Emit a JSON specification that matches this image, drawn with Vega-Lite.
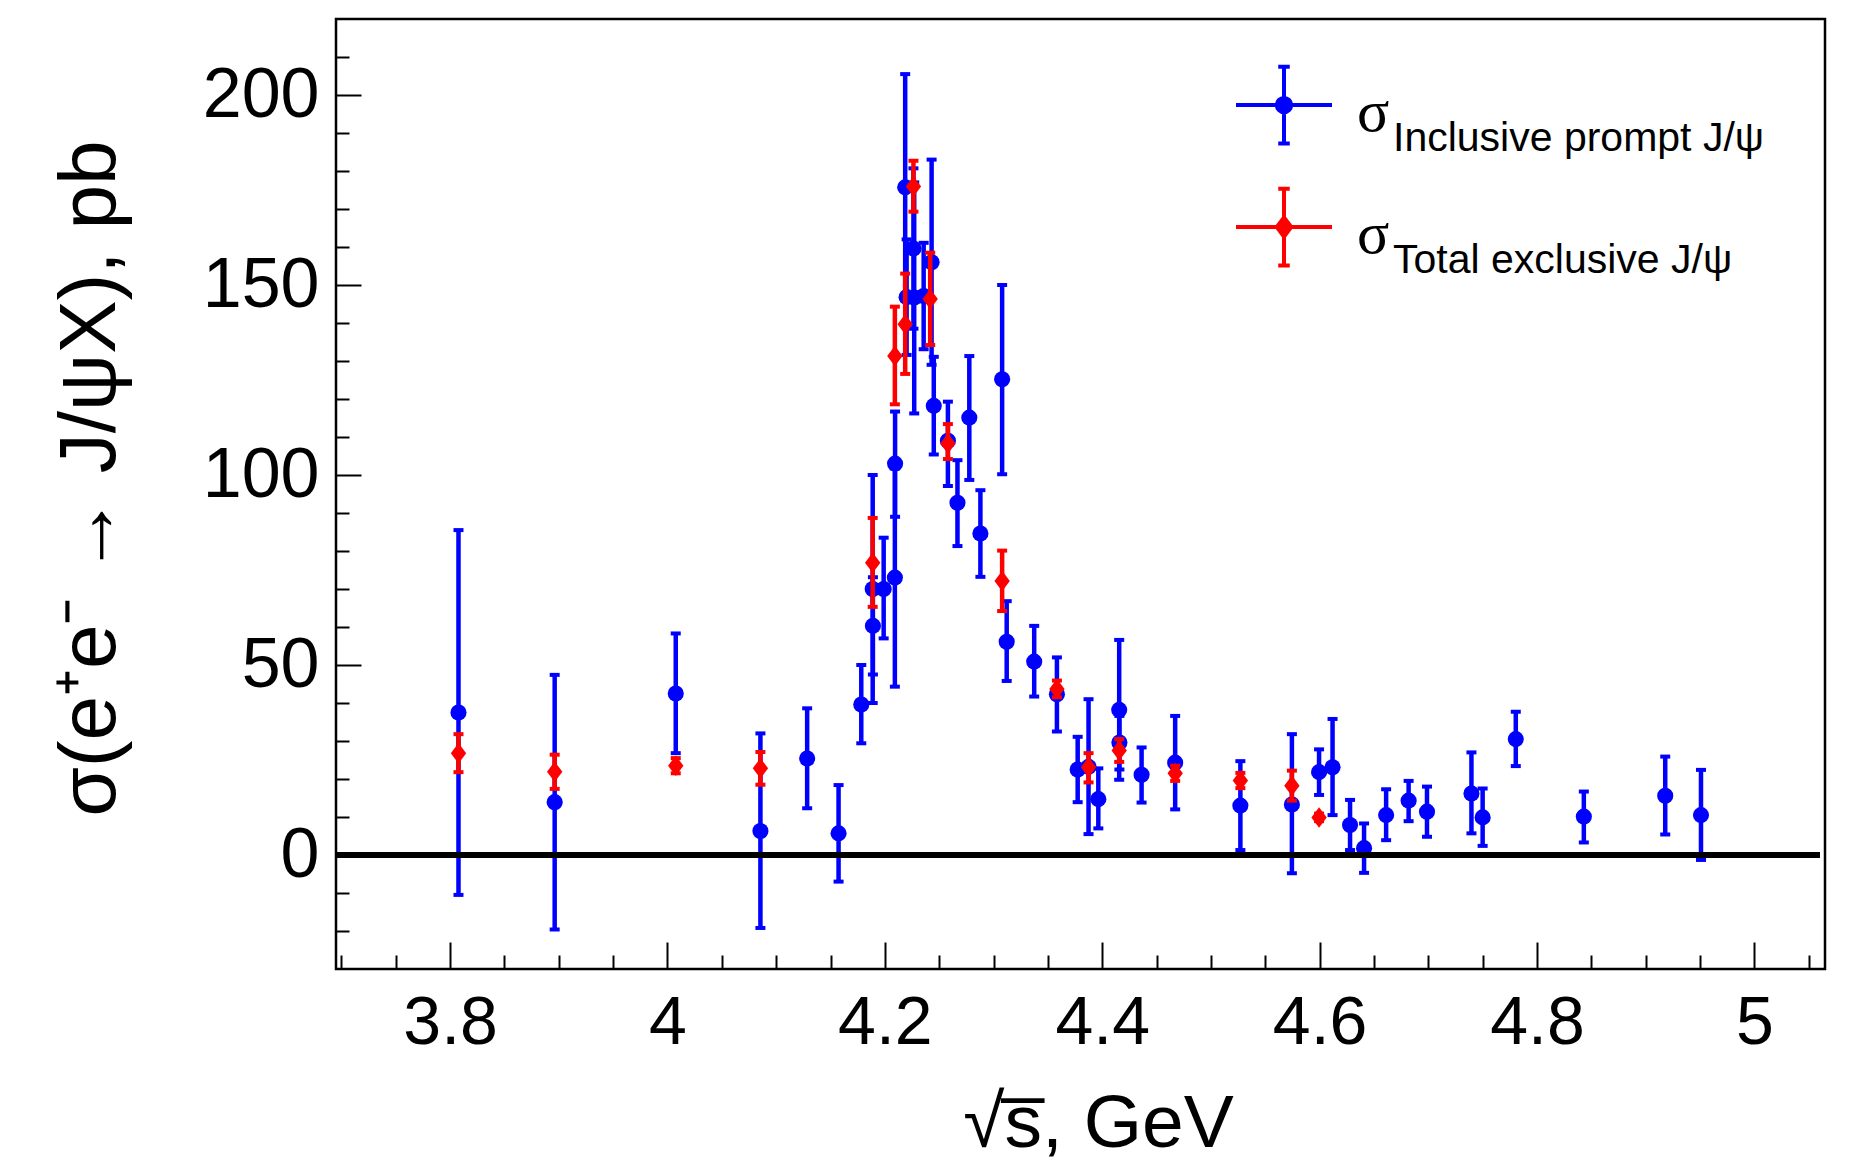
{
  "$schema": "https://vega.github.io/schema/vega-lite/v6.json",
  "width": 1489,
  "height": 950,
  "autosize": {"type": "none"},
  "padding": {"left": 336, "top": 19, "right": 39, "bottom": 193},
  "background": "white",
  "config": {
    "view": {"stroke": "black", "strokeWidth": 2.5},
    "font": "Liberation Sans"
  },
  "data": {
    "values": [
      {"x": 3.8077, "y": 37.5, "lo": -10.5, "hi": 85.5, "series": "Inclusive", "label": "Inclusive prompt J/ψ"},
      {"x": 3.8962, "y": 13.9, "lo": -19.6, "hi": 47.4, "series": "Inclusive", "label": "Inclusive prompt J/ψ"},
      {"x": 4.0076, "y": 42.5, "lo": 26.8, "hi": 58.3, "series": "Inclusive", "label": "Inclusive prompt J/ψ"},
      {"x": 4.0855, "y": 6.3, "lo": -19.2, "hi": 32.0, "series": "Inclusive", "label": "Inclusive prompt J/ψ"},
      {"x": 4.1285, "y": 25.4, "lo": 12.3, "hi": 38.6, "series": "Inclusive", "label": "Inclusive prompt J/ψ"},
      {"x": 4.1574, "y": 5.7, "lo": -7.0, "hi": 18.4, "series": "Inclusive", "label": "Inclusive prompt J/ψ"},
      {"x": 4.1783, "y": 39.6, "lo": 29.4, "hi": 50.0, "series": "Inclusive", "label": "Inclusive prompt J/ψ"},
      {"x": 4.1888, "y": 70.0, "lo": 40.0, "hi": 100.0, "series": "Inclusive", "label": "Inclusive prompt J/ψ"},
      {"x": 4.1890, "y": 60.3, "lo": 47.5, "hi": 73.1, "series": "Inclusive", "label": "Inclusive prompt J/ψ"},
      {"x": 4.1989, "y": 70.0, "lo": 57.0, "hi": 83.5, "series": "Inclusive", "label": "Inclusive prompt J/ψ"},
      {"x": 4.2092, "y": 73.0, "lo": 44.3, "hi": 101.7, "series": "Inclusive", "label": "Inclusive prompt J/ψ"},
      {"x": 4.2094, "y": 103.0, "lo": 89.0, "hi": 116.7, "series": "Inclusive", "label": "Inclusive prompt J/ψ"},
      {"x": 4.2187, "y": 175.7, "lo": 146.0, "hi": 205.5, "series": "Inclusive", "label": "Inclusive prompt J/ψ"},
      {"x": 4.2200, "y": 146.8, "lo": 131.6, "hi": 162.0, "series": "Inclusive", "label": "Inclusive prompt J/ψ"},
      {"x": 4.2263, "y": 159.6, "lo": 138.5, "hi": 180.7, "series": "Inclusive", "label": "Inclusive prompt J/ψ"},
      {"x": 4.2270, "y": 146.7, "lo": 116.2, "hi": 177.0, "series": "Inclusive", "label": "Inclusive prompt J/ψ"},
      {"x": 4.2357, "y": 147.1, "lo": 133.1, "hi": 161.1, "series": "Inclusive", "label": "Inclusive prompt J/ψ"},
      {"x": 4.2430, "y": 156.0, "lo": 129.0, "hi": 183.0, "series": "Inclusive", "label": "Inclusive prompt J/ψ"},
      {"x": 4.2450, "y": 118.2, "lo": 105.4, "hi": 131.1, "series": "Inclusive", "label": "Inclusive prompt J/ψ"},
      {"x": 4.2580, "y": 109.0, "lo": 97.1, "hi": 119.3, "series": "Inclusive", "label": "Inclusive prompt J/ψ"},
      {"x": 4.2668, "y": 92.7, "lo": 81.3, "hi": 103.9, "series": "Inclusive", "label": "Inclusive prompt J/ψ"},
      {"x": 4.2777, "y": 115.1, "lo": 98.7, "hi": 131.3, "series": "Inclusive", "label": "Inclusive prompt J/ψ"},
      {"x": 4.2879, "y": 84.6, "lo": 73.2, "hi": 96.0, "series": "Inclusive", "label": "Inclusive prompt J/ψ"},
      {"x": 4.3079, "y": 125.2, "lo": 100.2, "hi": 150.0, "series": "Inclusive", "label": "Inclusive prompt J/ψ"},
      {"x": 4.3121, "y": 56.1, "lo": 45.8, "hi": 66.8, "series": "Inclusive", "label": "Inclusive prompt J/ψ"},
      {"x": 4.3374, "y": 50.9, "lo": 41.7, "hi": 60.3, "series": "Inclusive", "label": "Inclusive prompt J/ψ"},
      {"x": 4.3583, "y": 42.3, "lo": 32.5, "hi": 52.0, "series": "Inclusive", "label": "Inclusive prompt J/ψ"},
      {"x": 4.3774, "y": 22.5, "lo": 13.9, "hi": 31.1, "series": "Inclusive", "label": "Inclusive prompt J/ψ"},
      {"x": 4.3874, "y": 23.2, "lo": 5.5, "hi": 41.0, "series": "Inclusive", "label": "Inclusive prompt J/ψ"},
      {"x": 4.3964, "y": 14.7, "lo": 7.0, "hi": 22.8, "series": "Inclusive", "label": "Inclusive prompt J/ψ"},
      {"x": 4.4156, "y": 38.2, "lo": 19.8, "hi": 56.6, "series": "Inclusive", "label": "Inclusive prompt J/ψ"},
      {"x": 4.4158, "y": 29.6, "lo": 22.5, "hi": 36.6, "series": "Inclusive", "label": "Inclusive prompt J/ψ"},
      {"x": 4.4362, "y": 21.1, "lo": 13.8, "hi": 28.3, "series": "Inclusive", "label": "Inclusive prompt J/ψ"},
      {"x": 4.4671, "y": 24.3, "lo": 12.0, "hi": 36.6, "series": "Inclusive", "label": "Inclusive prompt J/ψ"},
      {"x": 4.5271, "y": 13.0, "lo": 1.3, "hi": 24.7, "series": "Inclusive", "label": "Inclusive prompt J/ψ"},
      {"x": 4.5745, "y": 13.3, "lo": -4.8, "hi": 31.8, "series": "Inclusive", "label": "Inclusive prompt J/ψ"},
      {"x": 4.5995, "y": 21.8, "lo": 15.8, "hi": 27.8, "series": "Inclusive", "label": "Inclusive prompt J/ψ"},
      {"x": 4.6119, "y": 23.1, "lo": 10.5, "hi": 35.8, "series": "Inclusive", "label": "Inclusive prompt J/ψ"},
      {"x": 4.6280, "y": 7.9, "lo": 1.3, "hi": 14.5, "series": "Inclusive", "label": "Inclusive prompt J/ψ"},
      {"x": 4.6409, "y": 1.8, "lo": -4.7, "hi": 8.3, "series": "Inclusive", "label": "Inclusive prompt J/ψ"},
      {"x": 4.6612, "y": 10.5, "lo": 3.9, "hi": 17.3, "series": "Inclusive", "label": "Inclusive prompt J/ψ"},
      {"x": 4.6819, "y": 14.3, "lo": 8.9, "hi": 19.5, "series": "Inclusive", "label": "Inclusive prompt J/ψ"},
      {"x": 4.6988, "y": 11.4, "lo": 4.8, "hi": 18.0, "series": "Inclusive", "label": "Inclusive prompt J/ψ"},
      {"x": 4.7397, "y": 16.2, "lo": 5.7, "hi": 27.0, "series": "Inclusive", "label": "Inclusive prompt J/ψ"},
      {"x": 4.7500, "y": 9.9, "lo": 2.4, "hi": 17.5, "series": "Inclusive", "label": "Inclusive prompt J/ψ"},
      {"x": 4.7805, "y": 30.5, "lo": 23.4, "hi": 37.7, "series": "Inclusive", "label": "Inclusive prompt J/ψ"},
      {"x": 4.8431, "y": 10.1, "lo": 3.3, "hi": 16.7, "series": "Inclusive", "label": "Inclusive prompt J/ψ"},
      {"x": 4.9180, "y": 15.6, "lo": 5.4, "hi": 25.9, "series": "Inclusive", "label": "Inclusive prompt J/ψ"},
      {"x": 4.9509, "y": 10.5, "lo": -1.3, "hi": 22.4, "series": "Inclusive", "label": "Inclusive prompt J/ψ"},
      {"x": 3.8077, "y": 26.8, "lo": 21.8, "hi": 31.8, "series": "Total", "label": "Total exclusive J/ψ"},
      {"x": 3.8962, "y": 21.9, "lo": 17.4, "hi": 26.4, "series": "Total", "label": "Total exclusive J/ψ"},
      {"x": 4.0076, "y": 23.5, "lo": 21.5, "hi": 25.5, "series": "Total", "label": "Total exclusive J/ψ"},
      {"x": 4.0855, "y": 22.8, "lo": 18.5, "hi": 27.1, "series": "Total", "label": "Total exclusive J/ψ"},
      {"x": 4.1888, "y": 76.9, "lo": 65.3, "hi": 88.7, "series": "Total", "label": "Total exclusive J/ψ"},
      {"x": 4.2092, "y": 131.3, "lo": 118.6, "hi": 144.3, "series": "Total", "label": "Total exclusive J/ψ"},
      {"x": 4.2187, "y": 139.7, "lo": 126.6, "hi": 153.0, "series": "Total", "label": "Total exclusive J/ψ"},
      {"x": 4.2263, "y": 175.9, "lo": 169.3, "hi": 182.7, "series": "Total", "label": "Total exclusive J/ψ"},
      {"x": 4.2417, "y": 146.3, "lo": 134.2, "hi": 158.5, "series": "Total", "label": "Total exclusive J/ψ"},
      {"x": 4.2580, "y": 108.3, "lo": 104.2, "hi": 113.4, "series": "Total", "label": "Total exclusive J/ψ"},
      {"x": 4.3079, "y": 72.1, "lo": 64.2, "hi": 80.1, "series": "Total", "label": "Total exclusive J/ψ"},
      {"x": 4.3583, "y": 43.7, "lo": 41.5, "hi": 45.9, "series": "Total", "label": "Total exclusive J/ψ"},
      {"x": 4.3874, "y": 23.1, "lo": 19.1, "hi": 26.8, "series": "Total", "label": "Total exclusive J/ψ"},
      {"x": 4.4156, "y": 27.5, "lo": 24.5, "hi": 30.5, "series": "Total", "label": "Total exclusive J/ψ"},
      {"x": 4.4671, "y": 21.5, "lo": 19.5, "hi": 23.5, "series": "Total", "label": "Total exclusive J/ψ"},
      {"x": 4.5271, "y": 19.6, "lo": 17.6, "hi": 21.6, "series": "Total", "label": "Total exclusive J/ψ"},
      {"x": 4.5745, "y": 18.2, "lo": 14.3, "hi": 22.2, "series": "Total", "label": "Total exclusive J/ψ"},
      {"x": 4.5995, "y": 9.9, "lo": 8.9, "hi": 10.9, "series": "Total", "label": "Total exclusive J/ψ"}
    ]
  },
  "encoding": {
    "x": {
      "field": "x",
      "type": "quantitative",
      "scale": {"domain": [3.695, 5.065], "nice": false, "zero": false},
      "axis": {
        "values": [3.7, 3.75, 3.8, 3.85, 3.9, 3.95, 4.0, 4.05, 4.1, 4.15, 4.2, 4.25, 4.3, 4.35, 4.4, 4.45, 4.5, 4.55, 4.6, 4.65, 4.7, 4.75, 4.8, 4.85, 4.9, 4.95, 5.0, 5.05],
        "format": "~g",
        "labelExpr": "abs(datum.value*5 - round(datum.value*5)) < 0.001 ? datum.label : ''",
        "tickSize": {"condition": {"test": "abs(datum.value*5 - round(datum.value*5)) < 0.001", "value": -27}, "value": -14},
        "tickColor": "black",
        "tickWidth": 2,
        "domain": false,
        "grid": false,
        "labelFont": "Liberation Sans",
        "labelFontSize": 68,
        "labelColor": "black",
        "labelPadding": 47,
        "labelFlush": false,
        "labelOverlap": false,
        "labelBound": false,
        "title": "√s̅, GeV",
        "titleFont": "Liberation Sans",
        "titleFontSize": 75,
        "titleFontWeight": "normal",
        "titleColor": "black",
        "titleX": 762,
        "titleY": 177,
        "titleAlign": "center",
        "titleBaseline": "alphabetic"
      }
    },
    "y": {
      "field": "y",
      "type": "quantitative",
      "title": "σ(e⁺e⁻ → J/ψX), pb",
      "scale": {"domain": [-30, 220], "nice": false, "zero": false},
      "axis": {
        "values": [-20, -10, 0, 10, 20, 30, 40, 50, 60, 70, 80, 90, 100, 110, 120, 130, 140, 150, 160, 170, 180, 190, 200, 210],
        "labelExpr": "datum.value % 50 === 0 ? datum.label : ''",
        "tickSize": {"condition": {"test": "datum.value % 50 === 0", "value": -25}, "value": -13},
        "tickColor": "black",
        "tickWidth": 2,
        "domain": false,
        "grid": false,
        "labelFont": "Liberation Sans",
        "labelFontSize": 70,
        "labelColor": "black",
        "labelPadding": 42,
        "labelFlush": false,
        "labelOverlap": false,
        "labelBound": false,
        "titleFont": "Liberation Sans",
        "titleFontSize": 80,
        "titleFontWeight": "normal",
        "titleColor": "black",
        "titleAngle": -90,
        "titleX": -222,
        "titleY": 459,
        "titleAlign": "center",
        "titleBaseline": "alphabetic"
      }
    }
  },
  "layer": [
    {
      "transform": [{"filter": "datum.series === 'Inclusive'"}],
      "mark": {"type": "rule", "color": "#0000ff", "strokeWidth": 4.5},
      "encoding": {
        "y": {"field": "lo", "type": "quantitative", "title": "σ(e⁺e⁻ → J/ψX), pb"},
        "y2": {"field": "hi"},
        "strokeDash": {
          "field": "label",
          "type": "nominal",
          "scale": {"domain": ["Inclusive prompt J/ψ", "Total exclusive J/ψ"], "range": [[1, 0], [1, 0]]},
          "legend": {
            "orient": "none",
            "legendX": 957,
            "legendY": 82,
            "padding": 0,
            "title": null,
            "symbolSize": 9216,
            "symbolStrokeWidth": 4,
            "symbolOpacity": 0,
            "rowPadding": 64,
            "labelFont": "Liberation Sans",
            "labelFontSize": 41,
            "labelColor": "black",
            "labelOffset": 0,
            "labelBaseline": "alphabetic",
            "labelLimit": 0
          }
        }
      }
    },
    {
      "transform": [{"filter": "datum.series === 'Inclusive'"}],
      "mark": {"type": "tick", "orient": "horizontal", "color": "#0000ff", "size": 10, "thickness": 4, "opacity": 1},
      "encoding": {"y": {"field": "lo", "type": "quantitative", "title": "σ(e⁺e⁻ → J/ψX), pb"}}
    },
    {
      "transform": [{"filter": "datum.series === 'Inclusive'"}],
      "mark": {"type": "tick", "orient": "horizontal", "color": "#0000ff", "size": 10, "thickness": 4, "opacity": 1},
      "encoding": {"y": {"field": "hi", "type": "quantitative", "title": "σ(e⁺e⁻ → J/ψX), pb"}}
    },
    {
      "transform": [{"filter": "datum.series === 'Inclusive'"}],
      "mark": {"type": "point", "filled": true, "opacity": 1, "strokeWidth": 0, "size": 260, "shape": "circle", "color": "#0000ff"}
    },
    {
      "transform": [{"filter": "datum.series === 'Total'"}],
      "mark": {"type": "rule", "color": "#ff0000", "strokeWidth": 4.5},
      "encoding": {
        "y": {"field": "lo", "type": "quantitative", "title": "σ(e⁺e⁻ → J/ψX), pb"},
        "y2": {"field": "hi"},
        "strokeDash": {"field": "label", "type": "nominal"}
      }
    },
    {
      "transform": [{"filter": "datum.series === 'Total'"}],
      "mark": {"type": "tick", "orient": "horizontal", "color": "#ff0000", "size": 10, "thickness": 4, "opacity": 1},
      "encoding": {"y": {"field": "lo", "type": "quantitative", "title": "σ(e⁺e⁻ → J/ψX), pb"}}
    },
    {
      "transform": [{"filter": "datum.series === 'Total'"}],
      "mark": {"type": "tick", "orient": "horizontal", "color": "#ff0000", "size": 10, "thickness": 4, "opacity": 1},
      "encoding": {"y": {"field": "hi", "type": "quantitative", "title": "σ(e⁺e⁻ → J/ψX), pb"}}
    },
    {
      "transform": [{"filter": "datum.series === 'Total'"}],
      "mark": {"type": "point", "filled": true, "opacity": 1, "strokeWidth": 0, "size": 420, "shape": "M-0.75,0L0,-1L0.75,0L0,1Z", "color": "#ff0000"}
    },
    {
      "transform": [{"filter": "false"}],
      "mark": {"type": "point", "filled": true},
      "encoding": {
        "fill": {
          "field": "series",
          "type": "nominal",
          "scale": {"domain": ["Inclusive", "Total"], "range": ["#0000ff", "#ff0000"]},
          "legend": {
            "orient": "none",
            "legendX": 898,
            "legendY": 62,
            "padding": 0,
            "title": null,
            "symbolSize": 9216,
            "symbolStrokeWidth": 4,
            "symbolOpacity": 1,
            "rowPadding": 28,
            "labelExpr": "'σ'",
            "labelFont": "Liberation Serif",
            "labelFontSize": 60,
            "labelColor": "black",
            "labelOffset": 23,
            "labelBaseline": "alphabetic"
          }
        },
        "stroke": {
          "field": "series",
          "type": "nominal",
          "scale": {"domain": ["Inclusive", "Total"], "range": ["#0000ff", "#ff0000"]},
          "legend": {
            "orient": "none",
            "legendX": 898,
            "legendY": 62,
            "padding": 0,
            "title": null,
            "symbolSize": 9216,
            "symbolStrokeWidth": 4,
            "symbolOpacity": 1,
            "rowPadding": 28,
            "labelExpr": "'σ'",
            "labelFont": "Liberation Serif",
            "labelFontSize": 60,
            "labelColor": "black",
            "labelOffset": 23,
            "labelBaseline": "alphabetic"
          }
        },
        "shape": {
          "field": "series",
          "type": "nominal",
          "scale": {
            "domain": ["Inclusive", "Total"],
            "range": [
              "M-1,-0.54H1M0,-1.34V0.26M-0.12,-1.34H0.12M-0.12,0.26H0.12M0.15,-0.54A0.15,0.15,0,1,1,-0.15,-0.54A0.15,0.15,0,1,1,0.15,-0.54Z",
              "M-1,-0.54H1M0,-1.34V0.26M-0.12,-1.34H0.12M-0.12,0.26H0.12M0,-0.74L0.15,-0.54L0,-0.34L-0.15,-0.54Z"
            ]
          },
          "legend": {
            "orient": "none",
            "legendX": 898,
            "legendY": 62,
            "padding": 0,
            "title": null,
            "symbolSize": 9216,
            "symbolStrokeWidth": 4,
            "symbolOpacity": 1,
            "rowPadding": 28,
            "labelExpr": "'σ'",
            "labelFont": "Liberation Serif",
            "labelFontSize": 60,
            "labelColor": "black",
            "labelOffset": 23,
            "labelBaseline": "alphabetic"
          }
        }
      }
    },
    {
      "mark": {"type": "rule", "color": "black", "strokeWidth": 5},
      "encoding": {
        "x": {"datum": 3.695},
        "x2": {"datum": 5.06},
        "y": {"datum": 0}
      }
    }
  ]
}
